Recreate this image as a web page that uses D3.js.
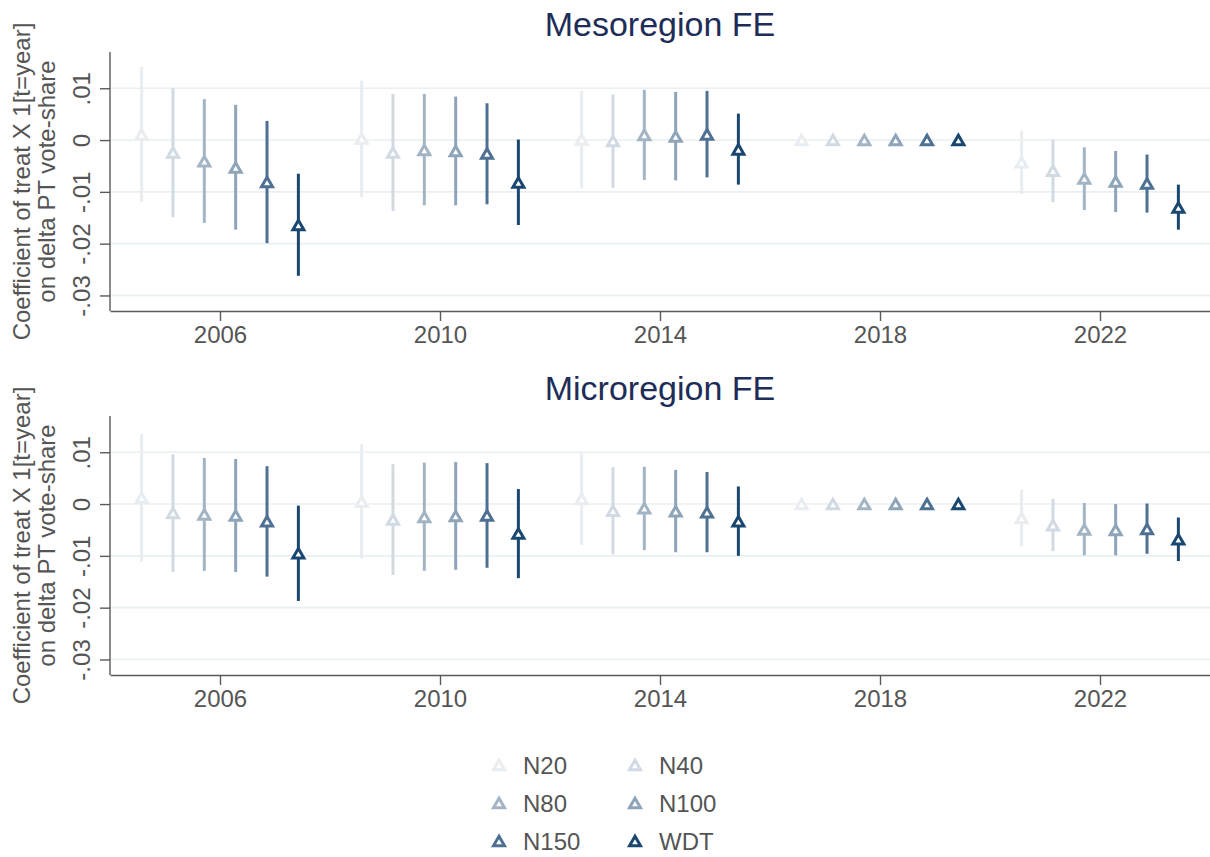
<!DOCTYPE html>
<html>
<head>
<meta charset="utf-8">
<script src="https://cdn.jsdelivr.net/npm/d3@7"></script>
<style>
  html, body { margin: 0; padding: 0; background: #fff; }
  svg { display: block; font-family: "Liberation Sans", Arial, sans-serif; }
</style>
</head>
<body>
<svg id="chart" width="1210" height="857"></svg>
<script>
// Event-study coefficients by sample definition, election years 2006–2022 (2018 = reference year)
const years = [2006, 2010, 2014, 2018, 2022];
const specs = ["N20", "N40", "N80", "N100", "N150", "WDT"];
const specColors = ["#e8edf1", "#d1dae2", "#a3b5c5", "#8ea4b8", "#4d7093", "#1a476f"];
const yTicks = [-0.03, -0.02, -0.01, 0, 0.01];
const yTickLabels = ["-.03", "-.02", "-.01", "0", ".01"];
const xTicks = [2006, 2010, 2014, 2018, 2022];
const panelTitles = ["Mesoregion FE", "Microregion FE"];

// Mesoregion FE: point estimates, lower and upper CI bounds (rows follow specs, columns follow years)
const mesoCoef = [
  [0.0011, 0.0003, 0.0001, 0, -0.0043],
  [-0.0024, -0.0024, -0.0002, 0, -0.0059],
  [-0.0041, -0.0019, 0.0010, 0, -0.0074],
  [-0.0053, -0.0021, 0.0007, 0, -0.0080],
  [-0.0081, -0.0026, 0.0011, 0, -0.0084],
  [-0.0164, -0.0082, -0.0018, 0, -0.0130]
];
const mesoLo = [
  [-0.0119, -0.0110, -0.0093, null, -0.0104],
  [-0.0149, -0.0137, -0.0092, null, -0.0120],
  [-0.0160, -0.0126, -0.0077, null, -0.0135],
  [-0.0173, -0.0126, -0.0078, null, -0.0139],
  [-0.0199, -0.0124, -0.0072, null, -0.0140],
  [-0.0262, -0.0164, -0.0086, null, -0.0173]
];
const mesoHi = [
  [0.0141, 0.0115, 0.0095, null, 0.0018],
  [0.0100, 0.0089, 0.0088, null, 0.0001],
  [0.0079, 0.0089, 0.0097, null, -0.0014],
  [0.0068, 0.0084, 0.0093, null, -0.0021],
  [0.0037, 0.0071, 0.0095, null, -0.0028],
  [-0.0065, 0.0001, 0.0051, null, -0.0086]
];

// Microregion FE
const microCoef = [
  [0.0012, 0.0005, 0.0010, 0, -0.0027],
  [-0.0017, -0.0030, -0.0013, 0, -0.0041],
  [-0.0020, -0.0025, -0.0008, 0, -0.0049],
  [-0.0022, -0.0023, -0.0014, 0, -0.0050],
  [-0.0033, -0.0022, -0.0016, 0, -0.0048],
  [-0.0095, -0.0057, -0.0033, 0, -0.0068]
];
const microLo = [
  [-0.0111, -0.0105, -0.0079, null, -0.0082],
  [-0.0131, -0.0137, -0.0097, null, -0.0091],
  [-0.0129, -0.0129, -0.0089, null, -0.0099],
  [-0.0131, -0.0127, -0.0093, null, -0.0099],
  [-0.0140, -0.0123, -0.0093, null, -0.0096],
  [-0.0187, -0.0143, -0.0100, null, -0.0110]
];
const microHi = [
  [0.0135, 0.0116, 0.0098, null, 0.0028],
  [0.0096, 0.0077, 0.0071, null, 0.0010],
  [0.0089, 0.0080, 0.0072, null, 0.0002],
  [0.0087, 0.0081, 0.0066, null, 0.0000],
  [0.0073, 0.0079, 0.0062, null, 0.0001],
  [-0.0003, 0.0029, 0.0034, null, -0.0026]
];

// horizontal offset (in years) of each sample within a year group
const specOffsets = [-1.425, -0.855, -0.285, 0.285, 0.855, 1.425];

const panelData = [
  { coef: mesoCoef, lo: mesoLo, hi: mesoHi },
  { coef: microCoef, lo: microLo, hi: microHi }
];

const svg = d3.select("#chart");
const plotLeft = 110, plotRight = 1210;
const panelTops = [52, 416];
const panelH = 259;

const axisColor = "#5a5a5a";
const textColor = "#555555";
const gridColor = "#e9f0f3";
const titleColor = "#1e2d58";

const x = d3.scaleLinear().domain([2004, 2024]).range([plotLeft, plotRight]);

// hollow triangle marker centred on its bounding box
function triPath(s) {
  const h = s * Math.sqrt(3) / 2;
  return `M0,${-h / 2}L${s / 2},${h / 2}L${-s / 2},${h / 2}Z`;
}
const markerPath = triPath(11);
const markerStroke = 3;

panelData.forEach((pd, p) => {
  const top = panelTops[p];
  const bottom = top + panelH;
  const y = d3.scaleLinear().domain([-0.033, 0.017]).range([bottom, top]);
  const g = svg.append("g");

  // title
  g.append("text")
    .attr("x", (plotLeft + plotRight) / 2)
    .attr("y", top - 16)
    .attr("text-anchor", "middle")
    .attr("font-size", 34)
    .attr("fill", titleColor)
    .text(panelTitles[p]);

  // gridlines
  g.append("g").selectAll("line").data(yTicks).join("line")
    .attr("x1", plotLeft).attr("x2", plotRight)
    .attr("y1", d => y(d)).attr("y2", d => y(d))
    .attr("stroke", gridColor).attr("stroke-width", 1.6);

  // y axis
  const yAxis = g.append("g")
    .attr("transform", `translate(${plotLeft},0)`)
    .call(d3.axisLeft(y).tickValues(yTicks).tickSize(10)
      .tickFormat((d, i) => yTickLabels[i]).tickSizeOuter(0));
  yAxis.select(".domain").attr("stroke", axisColor).attr("stroke-width", 1.4)
    .attr("d", `M0,${top}V${bottom}`);
  yAxis.selectAll(".tick line").attr("stroke", axisColor).attr("stroke-width", 1.4);
  yAxis.selectAll(".tick text")
    .attr("x", null).attr("dy", null)
    .attr("transform", "translate(-20,0) rotate(-90)")
    .attr("text-anchor", "middle")
    .attr("font-size", 24)
    .attr("fill", textColor)
    .attr("font-family", "Liberation Sans, Arial, sans-serif");

  // x axis
  const xAxis = g.append("g")
    .attr("transform", `translate(0,${bottom})`)
    .call(d3.axisBottom(x).tickValues(xTicks).tickSize(10)
      .tickFormat(d3.format("d")).tickSizeOuter(0));
  xAxis.select(".domain").attr("stroke", axisColor).attr("stroke-width", 1.4);
  xAxis.selectAll(".tick line").attr("stroke", axisColor).attr("stroke-width", 1.4);
  xAxis.selectAll(".tick text")
    .attr("y", 32).attr("dy", null)
    .attr("font-size", 24)
    .attr("fill", textColor)
    .attr("font-family", "Liberation Sans, Arial, sans-serif");

  // y axis title (two lines)
  const yTitle = g.append("text")
    .attr("transform", `translate(30,${(top + bottom) / 2}) rotate(-90)`)
    .attr("text-anchor", "middle")
    .attr("font-size", 24)
    .attr("fill", textColor);
  yTitle.append("tspan").attr("x", 0).attr("dy", 0).text("Coefficient of treat X 1[t=year]");
  yTitle.append("tspan").attr("x", 0).attr("dy", 25).text("on delta PT vote-share");

  // series: confidence intervals and point estimates
  specs.forEach((s, k) => {
    const pts = years.map((yr, j) => ({
      xv: yr + specOffsets[k],
      c: pd.coef[k][j], lo: pd.lo[k][j], hi: pd.hi[k][j]
    }));
    const sg = g.append("g");
    sg.selectAll("line").data(pts.filter(d => d.lo !== null)).join("line")
      .attr("x1", d => x(d.xv)).attr("x2", d => x(d.xv))
      .attr("y1", d => y(d.lo)).attr("y2", d => y(d.hi))
      .attr("stroke", specColors[k]).attr("stroke-width", 3);
    sg.selectAll("path").data(pts).join("path")
      .attr("d", markerPath)
      .attr("transform", d => `translate(${x(d.xv)},${y(d.c)})`)
      .attr("fill", "#fff")
      .attr("stroke", specColors[k])
      .attr("stroke-width", markerStroke);
  });
});

// legend
const legendCols = [499, 635];
const legendRows = [765, 803, 841];
const lg = svg.append("g");
specs.forEach((s, k) => {
  const cx = legendCols[k % 2];
  const cy = legendRows[Math.floor(k / 2)];
  lg.append("path")
    .attr("d", markerPath)
    .attr("transform", `translate(${cx},${cy})`)
    .attr("fill", "#fff")
    .attr("stroke", specColors[k])
    .attr("stroke-width", markerStroke);
  lg.append("text")
    .attr("x", cx + 24)
    .attr("y", cy + 9)
    .attr("font-size", 24)
    .attr("fill", textColor)
    .text(s);
});
</script>
</body>
</html>
